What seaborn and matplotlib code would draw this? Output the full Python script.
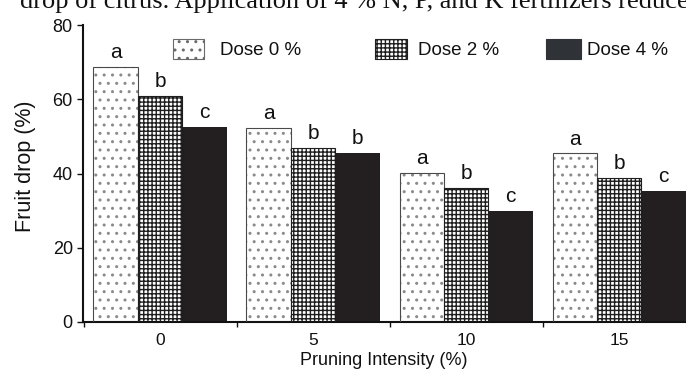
import matplotlib
matplotlib.use("Agg")
import matplotlib.pyplot as plt
import seaborn as sns
import pandas as pd
from matplotlib.patches import Patch, Rectangle
from matplotlib.legend import Legend
from matplotlib.ticker import FixedLocator

# Fruit drop (%) by pruning intensity and fertilizer dose
intensity = ["0", "5", "10", "15"]
doses = ["Dose 0 %", "Dose 2 %", "Dose 4 %"]
drop_dose0 = [68.6, 52.2, 40.2, 45.4]
drop_dose2 = [60.9, 46.8, 36.2, 38.9]
drop_dose4 = [52.6, 45.5, 30.0, 35.4]
letters_dose0 = ["a", "a", "a", "a"]
letters_dose2 = ["b", "b", "b", "b"]
letters_dose4 = ["c", "b", "c", "c"]
y_ticks = [0, 20, 40, 60, 80]

sns.set_theme(style="ticks")
plt.rcParams["font.family"] = ["Liberation Sans", "DejaVu Sans"]
plt.rcParams["hatch.linewidth"] = 1.0

df = pd.DataFrame({
    "intensity": intensity * 3,
    "dose": [d for d in doses for _ in intensity],
    "drop": drop_dose0 + drop_dose2 + drop_dose4,
})

W, H = 686, 369
fig = plt.figure(figsize=(W / 100, H / 100), dpi=100)
ax = fig.add_axes([82.5 / W, 1 - 322 / H, (W - 82.5) / W, (322 - 25) / H])

sns.barplot(data=df, x="intensity", y="drop", hue="dose", order=intensity,
            hue_order=doses, width=0.871, gap=0, errorbar=None, saturation=1,
            palette=["white", "white", "#231f20"], linewidth=0, legend=False, ax=ax)

styles = [
    dict(hatch="..", edge="#8a8a8a", outline="#4a4a4a"),
    dict(hatch="++++", edge="#1e1e1e", outline="#1e1e1e"),
    dict(hatch=None, edge="#231f20", outline=None),
]
letters = [letters_dose0, letters_dose2, letters_dose4]
for cont, st, lets in zip(ax.containers, styles, letters):
    for p, lt in zip(cont.patches, lets):
        if st["hatch"]:
            p.set_hatch(st["hatch"])
        p.set_edgecolor(st["edge"])
        p.set_linewidth(0)
        if st["outline"]:
            ax.add_patch(Rectangle((p.get_x(), p.get_y()), p.get_width(), p.get_height(),
                                   fill=False, edgecolor=st["outline"], linewidth=0.8, zorder=3))
        ax.text(p.get_x() + p.get_width() / 2, p.get_height() + 2.4, lt,
                ha="center", va="baseline", fontsize=15, color="#111111")

ax.set_ylim(0, 80)
ax.set_xlim(-0.507, 3.436)
ax.set_yticks(y_ticks)
ax.set_yticklabels([str(v) for v in y_ticks])
ax.xaxis.set_minor_locator(FixedLocator([-0.5, 0.5, 1.5, 2.5]))
ax.tick_params(axis="x", which="major", length=0, pad=8, labelsize=12.5, colors="#111111")
ax.tick_params(axis="x", which="minor", length=3.5, width=1, direction="out", color="#111111")
ax.tick_params(axis="y", length=4, width=1, pad=3, labelsize=13, colors="#111111")
for side in ["top", "right"]:
    ax.spines[side].set_visible(False)
for side in ["left", "bottom"]:
    ax.spines[side].set_linewidth(1.5)
    ax.spines[side].set_color("#111111")
ax.set_xlabel("Pruning Intensity (%)", fontsize=13, labelpad=3, color="#111111")
ax.set_ylabel("")

fig.text(25 / W, 1 - 166 / H, "Fruit drop (%)", rotation=90, ha="center", va="center",
         fontsize=15.5, color="#111111")

fig.text(20 / W, 1 - 8 / H, "drop of citrus. Application of 4 % N, P, and K fertilizers reduce",
         ha="left", va="baseline", fontsize=19, family=["Liberation Serif", "DejaVu Serif"],
         color="#111111")

# Legend entries, each placed on its own
handles = [
    Patch(facecolor="white", edgecolor="#6a6a6a", hatch="..", linewidth=0.8),
    Patch(facecolor="white", edgecolor="#1e1e1e", hatch="++++", linewidth=0.8),
    Patch(facecolor="#2f3236", edgecolor="#2f3236", linewidth=0.8),
]
fs_px = 13.5 * 100 / 72
leg_specs = [
    (173, 31, 16),
    (375, 32, 11),
    (546, 35, 6),
]
for h, lab, (x0, hw, tp) in zip(handles, doses, leg_specs):
    leg = Legend(ax, [h], [lab], loc="center left",
                 bbox_to_anchor=(x0 / W, 1 - 49 / H), bbox_transform=fig.transFigure,
                 frameon=False, borderpad=0, borderaxespad=0, fontsize=13.5,
                 handlelength=hw / fs_px, handleheight=25 / fs_px, handletextpad=tp / fs_px)
    for t in leg.get_texts():
        t.set_color("#111111")
    ax.add_artist(leg)

fig.savefig("out.png", dpi=100)
